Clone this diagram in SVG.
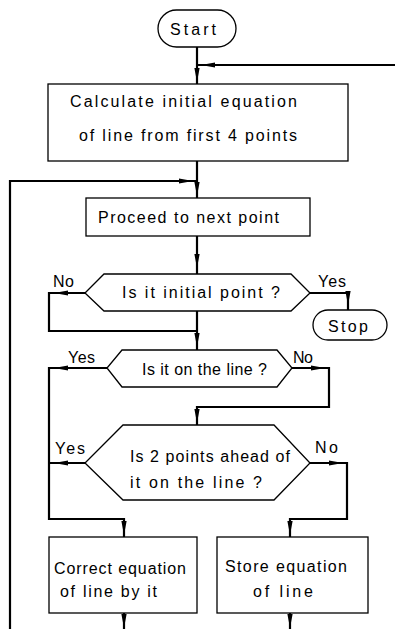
<svg xmlns="http://www.w3.org/2000/svg" xmlns:xlink="http://www.w3.org/1999/xlink" width="399" height="629" viewBox="0 0 399 629">
  <style>
    .shape { fill: #fff; stroke: #000; stroke-width: 1.3; }
    .flow { fill: none; stroke: #000; stroke-width: 2.2; stroke-linejoin: miter; }
    .ah { fill: #000; }
    text { font-family: "Liberation Sans", "DejaVu Sans", sans-serif; font-size: 16px; fill: #000; }
  </style>
  <defs>
    <!-- narrow drafting arrowhead, tip at origin, pointing along +x -->
    <path id="ah" class="ah" d="M0,0 L-14,-2.6 L-14,2.6 Z"/>
  </defs>

  <g id="connectors">
    <!-- main trunk -->
    <path class="flow" d="M197,47 V84"/>
    <path class="flow" d="M395,65 H197"/>
    <path class="flow" d="M197,161 V198"/>
    <path class="flow" d="M10,629 V181 H197"/>
    <path class="flow" d="M197,236 V274"/>
    <!-- Is it initial point? -->
    <path class="flow" d="M85,293 H49 V331 H197"/>
    <path class="flow" d="M310,293 H348 V310"/>
    <path class="flow" d="M197,311 V350"/>
    <!-- Is it on the line? -->
    <path class="flow" d="M107,368 H49 V519 H124 V537"/>
    <path class="flow" d="M292,368 H329 V407 H197 V425"/>
    <!-- Is 2 points ahead of it on the line? -->
    <path class="flow" d="M85,463 H49"/>
    <path class="flow" d="M310,463 H347 V519 H290 V537"/>
    <!-- exits below the process boxes -->
    <path class="flow" d="M124,613 V629"/>
    <path class="flow" d="M290,613 V629"/>

    <!-- arrowheads -->
    <use xlink:href="#ah" transform="translate(197,82) rotate(90)"/>
    <use xlink:href="#ah" transform="translate(201,65) rotate(180)"/>
    <use xlink:href="#ah" transform="translate(193,181)"/>
    <use xlink:href="#ah" transform="translate(197,196) rotate(90)"/>
    <use xlink:href="#ah" transform="translate(197,268) rotate(90)"/>
    <use xlink:href="#ah" transform="translate(54,293) rotate(180)"/>
    <use xlink:href="#ah" transform="translate(348,305) rotate(90)"/>
    <use xlink:href="#ah" transform="translate(197,347) rotate(90)"/>
    <use xlink:href="#ah" transform="translate(54,368) rotate(180)"/>
    <use xlink:href="#ah" transform="translate(325,368)"/>
    <use xlink:href="#ah" transform="translate(197,423) rotate(90)"/>
    <use xlink:href="#ah" transform="translate(54,463) rotate(180)"/>
    <use xlink:href="#ah" transform="translate(343,463)"/>
    <use xlink:href="#ah" transform="translate(124,535) rotate(90)"/>
    <use xlink:href="#ah" transform="translate(290,535) rotate(90)"/>
    <use xlink:href="#ah" transform="translate(124,628) rotate(90)"/>
    <use xlink:href="#ah" transform="translate(290,628) rotate(90)"/>
  </g>

  <g id="start">
    <rect class="shape" x="158" y="10" width="78" height="37" rx="18.5"/>
    <text x="170" y="35" textLength="46" lengthAdjust="spacing">Start</text>
  </g>

  <g id="calc-initial">
    <rect class="shape" x="48" y="84" width="300" height="77"/>
    <text x="70" y="107" textLength="227" lengthAdjust="spacing">Calculate  initial  equation</text>
    <text x="79" y="141" textLength="218" lengthAdjust="spacing">of line from first 4 points</text>
  </g>

  <g id="next-point">
    <rect class="shape" x="86" y="198" width="224" height="38"/>
    <text x="98" y="223" textLength="181" lengthAdjust="spacing">Proceed to next point</text>
  </g>

  <g id="is-initial">
    <polygon class="shape" points="104,274 291,274 310,293 291,311 104,311 85,293"/>
    <text x="122" y="298" textLength="158" lengthAdjust="spacing">Is it initial point ?</text>
    <text x="53" y="287" textLength="21" lengthAdjust="spacing">No</text>
    <text x="318" y="287" textLength="28" lengthAdjust="spacing">Yes</text>
  </g>

  <g id="stop">
    <rect class="shape" x="313" y="310" width="74" height="30" rx="15"/>
    <text x="328" y="332" textLength="40" lengthAdjust="spacing">Stop</text>
  </g>

  <g id="on-line">
    <polygon class="shape" points="122,350 277,350 292,368 277,387 122,387 107,368"/>
    <text x="142" y="375" textLength="125" lengthAdjust="spacing">Is it on the line ?</text>
    <text x="68" y="363" textLength="27" lengthAdjust="spacing">Yes</text>
    <text x="293" y="363" textLength="20" lengthAdjust="spacing">No</text>
  </g>

  <g id="two-ahead">
    <polygon class="shape" points="123,425 274,425 310,463 274,500 123,500 85,463"/>
    <text x="130" y="462" textLength="160" lengthAdjust="spacing">Is 2 points ahead of</text>
    <text x="130" y="488" textLength="132" lengthAdjust="spacing">it on the line ?</text>
    <text x="55" y="454" textLength="30" lengthAdjust="spacing">Yes</text>
    <text x="315" y="453" textLength="23" lengthAdjust="spacing">No</text>
  </g>

  <g id="correct-eq">
    <rect class="shape" x="49" y="537" width="148" height="76"/>
    <text x="54" y="574" textLength="132" lengthAdjust="spacing">Correct equation</text>
    <text x="60" y="597" textLength="97" lengthAdjust="spacing">of line by it</text>
  </g>

  <g id="store-eq">
    <rect class="shape" x="217" y="537" width="151" height="76"/>
    <text x="225" y="572" textLength="122" lengthAdjust="spacing">Store equation</text>
    <text x="253" y="597" textLength="60" lengthAdjust="spacing">of line</text>
  </g>
</svg>
